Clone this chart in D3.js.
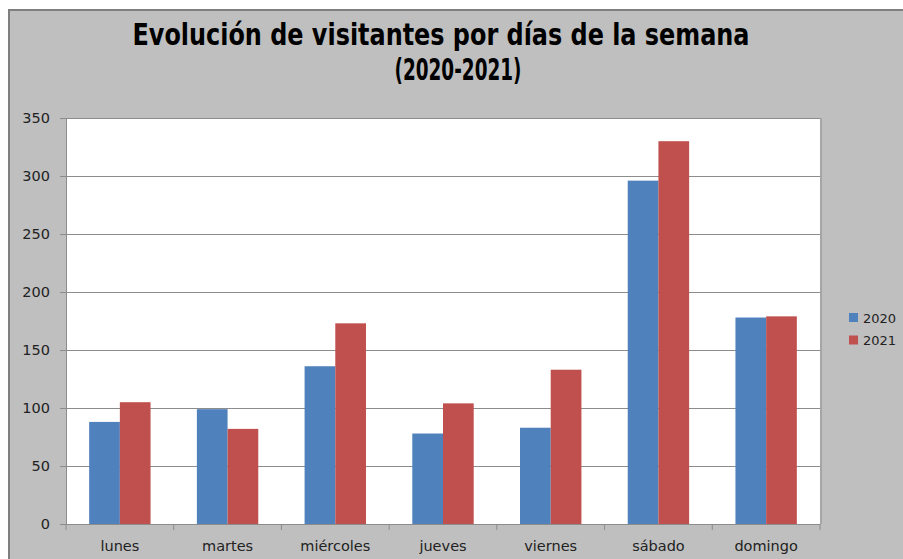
<!DOCTYPE html>
<html>
<head>
<meta charset="utf-8">
<script src="https://cdn.jsdelivr.net/npm/d3@7"></script>
<style>
  body { margin: 0; background: #fff; }
  svg { display: block; }
</style>
</head>
<body>
<div id="chart"></div>
<script>
// data
const dias = ["lunes", "martes", "miércoles", "jueves", "viernes", "sábado", "domingo"]
const series = ["2020", "2021"]
const v2020 = [88, 99, 136, 78, 83, 296, 178]
const v2021 = [105, 82, 173, 104, 133, 330, 179]
const yTicks = [0, 50, 100, 150, 200, 250, 300, 350]
const colores = ["#4f81bd", "#c0504d"]

const W = 903, H = 559
const font = "'Liberation Sans Narrow', 'DejaVu Sans Condensed', 'Liberation Sans', sans-serif"

const svg = d3.select("#chart").append("svg")
    .attr("width", W).attr("height", H)

// outer chart area
svg.append("rect")
    .attr("x", 9).attr("y", 10).attr("width", W).attr("height", H)
    .attr("fill", "#bfbfbf")
    .attr("stroke", "#7f7f7f").attr("stroke-width", 2)

// title
const title = svg.append("text")
    .attr("text-anchor", "middle")
    .attr("font-family", font)
    .attr("font-weight", "bold")
    .attr("font-size", 31)
    .attr("fill", "#000")
title.append("tspan").attr("x", 441).attr("y", 45)
    .attr("textLength", 617).attr("lengthAdjust", "spacingAndGlyphs")
    .text("Evolución de visitantes por días de la semana")
title.append("tspan").attr("x", 458).attr("y", 80)
    .attr("textLength", 127).attr("lengthAdjust", "spacingAndGlyphs")
    .text("(2020-2021)")

// plot area
const plot = { left: 66, top: 118, right: 820, bottom: 524 }

const x = d3.scaleBand()
    .domain(dias)
    .range([plot.left, plot.right])
    .paddingInner(0.43)
    .paddingOuter(0.215)

const xCat = d3.scaleBand().domain(dias).range([plot.left, plot.right])

const xSub = d3.scaleBand().domain(series).range([0, x.bandwidth()])

const y = d3.scaleLinear().domain([0, 350]).range([plot.bottom, plot.top])

svg.append("rect")
    .attr("x", plot.left).attr("y", plot.top)
    .attr("width", plot.right - plot.left).attr("height", plot.bottom - plot.top)
    .attr("fill", "#fff")

// right shadow
svg.append("line")
    .attr("x1", plot.right + 1).attr("x2", plot.right + 1)
    .attr("y1", plot.top).attr("y2", plot.bottom)
    .attr("stroke", "#a6a6a6").attr("stroke-width", 2)

// gridlines
svg.append("g")
    .selectAll("line")
    .data(yTicks.filter(d => d > 0))
    .enter().append("line")
    .attr("x1", plot.left).attr("x2", plot.right)
    .attr("y1", d => Math.round(y(d)) + 0.5).attr("y2", d => Math.round(y(d)) + 0.5)
    .attr("stroke", "#8c8c8c").attr("stroke-width", 1)

// bars
const rows = dias.map((d, i) => ({ dia: d, vals: [v2020[i], v2021[i]] }))

svg.append("g")
    .selectAll("g")
    .data(rows)
    .enter().append("g")
    .attr("transform", d => "translate(" + x(d.dia) + ",0)")
    .selectAll("rect")
    .data(d => d.vals.map((v, i) => ({ serie: series[i], v: v, c: colores[i] })))
    .enter().append("rect")
    .attr("x", d => xSub(d.serie))
    .attr("y", d => y(d.v))
    .attr("width", xSub.bandwidth())
    .attr("height", d => y(0) - y(d.v))
    .attr("fill", d => d.c)

// y axis
const yAxis = svg.append("g")
    .attr("transform", "translate(" + plot.left + ",0)")
    .call(d3.axisLeft(y).tickValues(yTicks).tickSize(6).tickPadding(10))
yAxis.select(".domain").attr("stroke", "#8c8c8c")
yAxis.selectAll(".tick line").attr("stroke", "#8c8c8c")
yAxis.selectAll("text")
    .attr("font-family", "'DejaVu Sans', sans-serif")
    .attr("font-size", 14.5).attr("fill", "#222")

// x axis
const xAxis = svg.append("g")
    .attr("transform", "translate(0," + plot.bottom + ")")
    .call(d3.axisBottom(xCat).tickSize(0).tickPadding(17))
xAxis.select(".domain").attr("stroke", "#8c8c8c")
xAxis.selectAll("text")
    .attr("font-family", "'DejaVu Sans', sans-serif")
    .attr("font-size", 14.5).attr("fill", "#222")

// category separators on x axis
svg.append("g")
    .selectAll("line")
    .data(d3.range(dias.length + 1))
    .enter().append("line")
    .attr("x1", i => plot.left + i * xCat.step()).attr("x2", i => plot.left + i * xCat.step())
    .attr("y1", plot.bottom).attr("y2", plot.bottom + 6)
    .attr("stroke", "#8c8c8c")

// legend
const legend = svg.append("g")
    .selectAll("g")
    .data(series)
    .enter().append("g")
    .attr("transform", (d, i) => "translate(849," + (313 + i * 22.5) + ")")
legend.append("rect")
    .attr("width", 9).attr("height", 9)
    .attr("fill", (d, i) => colores[i])
legend.append("text")
    .attr("x", 14).attr("y", 5)
    .attr("dy", "0.35em")
    .attr("font-family", "'DejaVu Sans', sans-serif")
    .attr("font-size", 13).attr("fill", "#222")
    .text(d => d)
</script>
</body>
</html>
